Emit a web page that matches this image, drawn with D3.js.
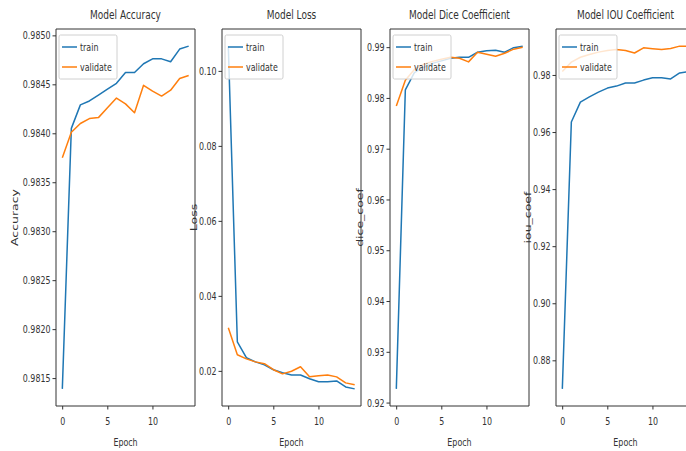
<!DOCTYPE html>
<html>
<head>
<meta charset="utf-8">
<script src="https://cdn.jsdelivr.net/npm/d3@7"></script>
<style>
  body { margin: 0; background: #fff; }
  svg { display: block; }
</style>
</head>
<body>
<svg id="chart"></svg>
<script>
// training history
const epochs = [0, 1, 2, 3, 4, 5, 6, 7, 8, 9, 10, 11, 12, 13, 14];
const epochTicks = [0, 5, 10];

const accTrain = [0.98139, 0.98405, 0.98429, 0.98433, 0.98439, 0.98445, 0.98451, 0.98462, 0.98462, 0.98471, 0.98476, 0.98476, 0.98473, 0.98486, 0.98489];
const accVal   = [0.98375, 0.98401, 0.98410, 0.98415, 0.98416, 0.98426, 0.98436, 0.98430, 0.98421, 0.98449, 0.98443, 0.98438, 0.98444, 0.98456, 0.98459];
const accTicks = [0.9815, 0.9820, 0.9825, 0.9830, 0.9835, 0.9840, 0.9845, 0.9850];

const lossTrain = [0.1066, 0.0277, 0.0235, 0.0224, 0.0216, 0.0203, 0.0195, 0.0189, 0.0189, 0.0179, 0.0171, 0.0171, 0.0173, 0.0157, 0.0152];
const lossVal   = [0.0315, 0.0243, 0.0232, 0.0224, 0.0219, 0.0203, 0.0192, 0.0199, 0.0211, 0.0184, 0.0187, 0.0189, 0.0184, 0.0168, 0.0163];
const lossTicks = [0.02, 0.04, 0.06, 0.08, 0.10];

const diceTrain = [0.9227, 0.9816, 0.9850, 0.9860, 0.9868, 0.9873, 0.9878, 0.9880, 0.9880, 0.9890, 0.9893, 0.9894, 0.9890, 0.9899, 0.9902];
const diceVal   = [0.9784, 0.9835, 0.9856, 0.9866, 0.9872, 0.9876, 0.9880, 0.9878, 0.9871, 0.9890, 0.9886, 0.9882, 0.9888, 0.9896, 0.9900];
const diceTicks = [0.92, 0.93, 0.94, 0.95, 0.96, 0.97, 0.98, 0.99];

const iouTrain = [0.8700, 0.9635, 0.9705, 0.9723, 0.9740, 0.9754, 0.9761, 0.9772, 0.9772, 0.9782, 0.9790, 0.9790, 0.9786, 0.9807, 0.9812];
const iouVal   = [0.9812, 0.9845, 0.9862, 0.9872, 0.9880, 0.9886, 0.9889, 0.9886, 0.9877, 0.9895, 0.9892, 0.9889, 0.9893, 0.9901, 0.9901];
const iouTicks = [0.88, 0.90, 0.92, 0.94, 0.96, 0.98];

const panels = [
  { title: "Model Accuracy", ylabel: "Accuracy", train: accTrain, val: accVal, ticks: accTicks, fmt: ".4f" },
  { title: "Model Loss", ylabel: "Loss", train: lossTrain, val: lossVal, ticks: lossTicks, fmt: ".2f" },
  { title: "Model Dice Coefficient", ylabel: "dice_coef", train: diceTrain, val: diceVal, ticks: diceTicks, fmt: ".2f" },
  { title: "Model IOU Coefficient", ylabel: "iou_coef", train: iouTrain, val: iouVal, ticks: iouTicks, fmt: ".2f" }
];
const seriesNames = ["train", "validate"];
const colors = ["#1f77b4", "#ff7f0e"];

// the original figure is squeezed sideways, so draw wide and squash with the viewBox
const K = 0.72;
const W = 686 / K, H = 451;
const sx = v => v / K;

const lefts = [56, 222, 390, 556];   // screen px
const axW = 139, axTop = 29, axBottom = 406;
const ylabelX = [15, 194, 360, 528];
const font = "DejaVu Sans";
const ink = "#333";

const svg = d3.select("#chart")
  .attr("width", 686)
  .attr("height", 451)
  .attr("viewBox", `0 0 ${W} ${H}`)
  .attr("preserveAspectRatio", "none");

panels.forEach((p, i) => {
  const x0 = sx(lefts[i]), x1 = sx(lefts[i] + axW);
  const x = d3.scaleLinear().domain([-0.7, 14.7]).range([x0, x1]);

  const ext = d3.extent(p.train.concat(p.val));
  const pad = (ext[1] - ext[0]) * 0.05;
  const y = d3.scaleLinear().domain([ext[0] - pad, ext[1] + pad]).range([axBottom, axTop]);

  const g = svg.append("g");

  // axes
  const xa = g.append("g")
    .attr("transform", `translate(0,${axBottom})`)
    .call(d3.axisBottom(x).tickValues(epochTicks).tickSize(3.5).tickPadding(7.5));
  const ya = g.append("g")
    .attr("transform", `translate(${x0},0)`)
    .call(d3.axisLeft(y).tickValues(p.ticks).tickFormat(d3.format(p.fmt)).tickSize(sx(3.5)).tickPadding(sx(2)));

  [xa, ya].forEach(a => {
    a.select(".domain").remove();
    a.selectAll("line").attr("stroke", ink).attr("vector-effect", "non-scaling-stroke");
    a.selectAll("text").attr("fill", ink).style("font-family", font).style("font-size", "11px");
  });

  // lines
  [p.train, p.val].forEach((vals, s) => {
    g.append("path")
      .datum(vals)
      .attr("fill", "none")
      .attr("stroke", colors[s])
      .attr("stroke-width", 1.5)
      .attr("stroke-linejoin", "round")
      .attr("vector-effect", "non-scaling-stroke")
      .attr("d", d3.line().x((d, k) => x(epochs[k])).y(d => y(d)));
  });

  // spines
  g.append("rect")
    .attr("x", x0).attr("y", axTop)
    .attr("width", x1 - x0).attr("height", axBottom - axTop)
    .attr("fill", "none")
    .attr("stroke", ink)
    .attr("stroke-width", 1)
    .attr("vector-effect", "non-scaling-stroke");

  // legend, upper left
  const lg = g.append("g").attr("transform", `translate(${sx(lefts[i] + 3)},35)`);
  lg.append("rect")
    .attr("width", sx(58)).attr("height", 44)
    .attr("rx", 2)
    .attr("fill", "#fff").attr("fill-opacity", 0.8)
    .attr("stroke", "#d0d0d0")
    .attr("vector-effect", "non-scaling-stroke");
  seriesNames.forEach((name, s) => {
    const ly = 12 + s * 20;
    lg.append("line")
      .attr("x1", sx(3)).attr("x2", sx(18))
      .attr("y1", ly).attr("y2", ly)
      .attr("stroke", colors[s]).attr("stroke-width", 1.5)
      .attr("vector-effect", "non-scaling-stroke");
    lg.append("text")
      .attr("x", sx(21)).attr("y", ly)
      .attr("dominant-baseline", "central")
      .attr("fill", ink)
      .style("font-family", font).style("font-size", "11px")
      .text(name);
  });

  // title and labels
  g.append("text")
    .attr("x", (x0 + x1) / 2).attr("y", 19)
    .attr("text-anchor", "middle")
    .attr("fill", ink)
    .style("font-family", font).style("font-size", "12.5px")
    .text(p.title);

  g.append("text")
    .attr("x", (x0 + x1) / 2).attr("y", 446)
    .attr("text-anchor", "middle")
    .attr("fill", ink)
    .style("font-family", font).style("font-size", "11px")
    .text("Epoch");

  g.append("text")
    .attr("transform", `translate(${sx(ylabelX[i])},${(axTop + axBottom) / 2}) rotate(-90)`)
    .attr("text-anchor", "middle")
    .attr("dominant-baseline", "central")
    .attr("fill", ink)
    .style("font-family", font).style("font-size", "12.5px")
    .text(p.ylabel);
});
</script>
</body>
</html>
